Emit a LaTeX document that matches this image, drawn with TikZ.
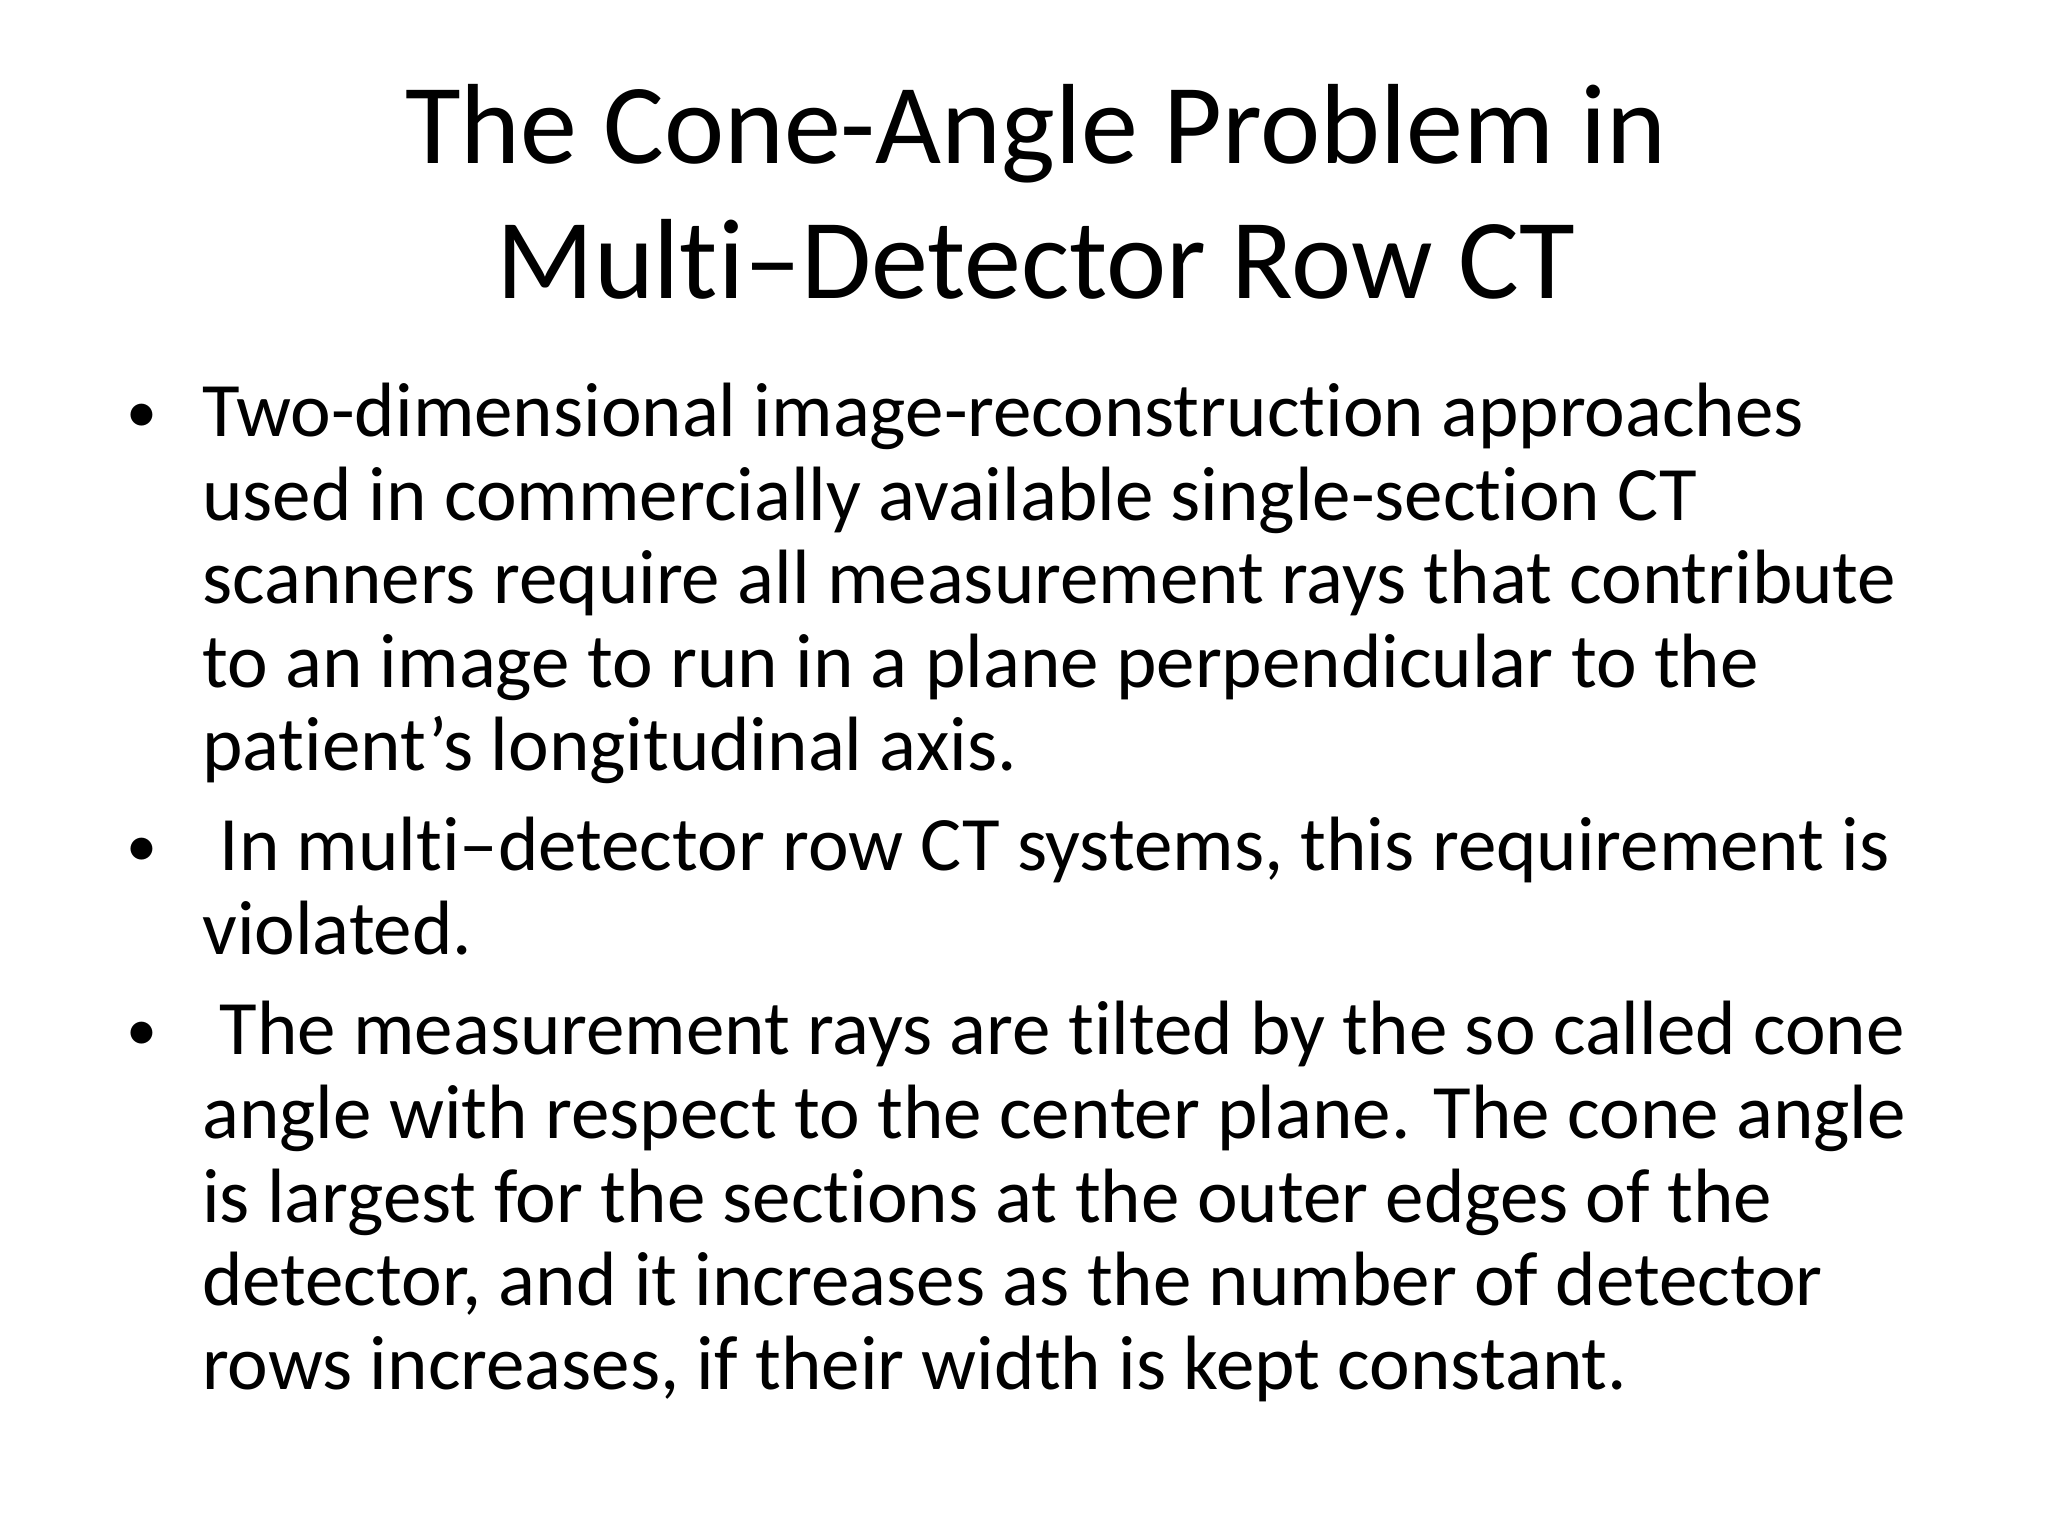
\documentclass[tikz,border=0pt]{standalone}
\usepackage{fontspec}
\setmainfont[RawFeature=-liga]{Carlito}
\begin{document}
\begin{tikzpicture}[x=1pt,y=-1pt,
  ttl/.style={anchor=base,inner sep=0,font=\fontsize{114}{136}\selectfont},
  txt/.style={anchor=base west,inner sep=0,font=\fontsize{77}{85}\selectfont},
  bul/.style={anchor=base west,inner sep=0,font=\fontsize{62}{85}\selectfont}]
\useasboundingbox[fill=white] (0,0) rectangle (2048,1535);
\node[ttl] (t1) at (1036,163) {The Cone-Angle Problem in};
\node[ttl] (t2) at (1036,298) {Multi–Detector Row CT};
\foreach \y/\s [count=\i] in {
 436/{Two-dimensional image-reconstruction approaches},
 520/{used in commercially available single-section CT},
 603/{scanners require all measurement rays that contribute},
 687/{to an image to run in a plane perpendicular to the},
 770/{patient’s longitudinal axis.},
 870/{\ In multi–detector row CT systems, this requirement is},
 954/{violated.},
 1054/{\ The measurement rays are tilted by the so called cone},
 1138/{angle with respect to the center plane. The cone angle},
 1222/{is largest for the sections at the outer edges of the},
 1305/{detector, and it increases as the number of detector},
 1389/{rows increases, if their width is kept constant.}}
 {\node[txt] (l\i) at (202,\y) {\s};}
\node[bul] (b1) at (126,432) {•};
\node[bul] (b2) at (126,866) {•};
\node[bul] (b3) at (126,1050) {•};
\end{tikzpicture}
\end{document}
